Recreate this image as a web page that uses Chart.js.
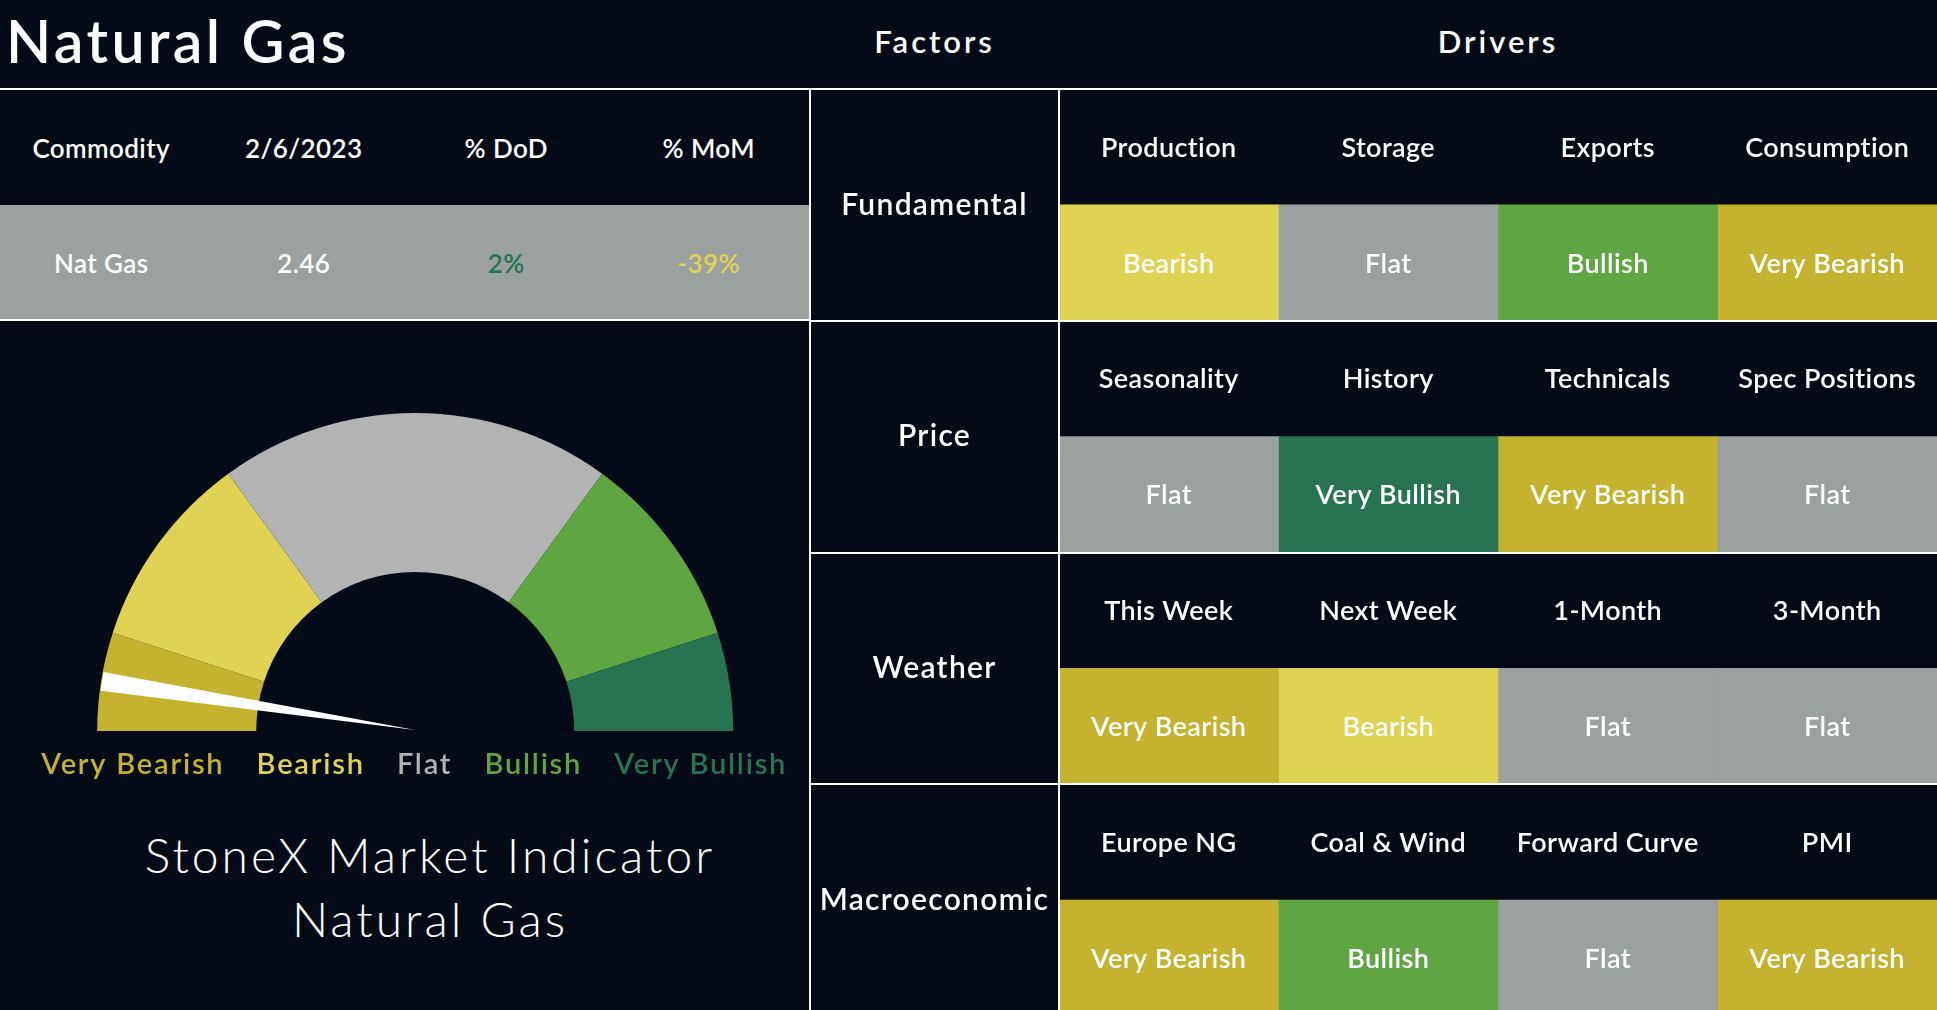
<!DOCTYPE html>
<html>
<head>
<meta charset="utf-8">
<title>Natural Gas - StoneX Market Indicator</title>
<script src="https://cdn.jsdelivr.net/npm/chart.js@4.4.1/dist/chart.umd.min.js"></script>
<style>
  html, body { margin: 0; padding: 0; width: 1937px; height: 1010px; overflow: hidden; background: #040b16; }
  body { position: relative; font-family: Lato, "Noto Sans", sans-serif; color: #fff; }
  .abs { position: absolute; }
  .line { position: absolute; background: #fff; }
  #title { left: 6px; top: 11px; font-size: 59px; font-weight: 600; line-height: 1; white-space: nowrap; letter-spacing: 3.4px; }
  .head { top: 26px; font-size: 31px; font-weight: 600; line-height: 1; text-align: center; letter-spacing: 3px; }
  #stats { left: 0; top: 90px; width: 810px; }
  #stats .row { display: flex; height: 115px; }
  #stats .row.data { background: #9aa19f; }
  #stats .cell { flex: 1; display: flex; align-items: center; justify-content: center; font-size: 26px; font-weight: 600; letter-spacing: 0.4px; }
  #indicator { left: 0; top: 823px; width: 860px; text-align: center; font-size: 48px; font-weight: 300; line-height: 64px; letter-spacing: 3px; }
</style>
</head>
<body>
<div id="title" class="abs">Natural Gas</div>
<div class="abs head" style="left:810px;width:249px;">Factors</div>
<div class="abs head" style="left:1059px;width:878px;">Drivers</div>

<div id="stats" class="abs"></div>
<div class="line" style="left:0;top:88px;width:810px;height:2px;"></div>
<div class="line" style="left:0;top:319px;width:810px;height:2px;"></div>
<div class="line" style="left:809px;top:88px;width:2px;height:922px;"></div>

<div class="abs" style="left:9px;top:413px;width:830px;height:379px;"><canvas id="gauge"></canvas></div>
<div class="abs" style="left:9px;top:413px;width:830px;height:317px;"><canvas id="needle"></canvas></div>
<div id="indicator" class="abs">StoneX Market Indicator<br>Natural Gas</div>

<div class="abs" style="left:810px;top:88px;width:1127px;height:928px;"><canvas id="drivers"></canvas></div>

<script>
// ---- data ----
const statHeaders = ['Commodity', '2/6/2023', '% DoD', '% MoM'];
const statValues = ['Nat Gas', '2.46', '2%', '-39%'];

const sentiments = ['Very Bearish', 'Bearish', 'Flat', 'Bullish', 'Very Bullish'];
const gaugeBands = [10, 20, 40, 20, 10];
const needleReading = 4.9;

const factors = ['Fundamental', 'Price', 'Weather', 'Macroeconomic'];
const drivers = [
    ['Production', 'Storage', 'Exports', 'Consumption'],
    ['Seasonality', 'History', 'Technicals', 'Spec Positions'],
    ['This Week', 'Next Week', '1-Month', '3-Month'],
    ['Europe NG', 'Coal & Wind', 'Forward Curve', 'PMI']
];
const signals = [
    ['Bearish', 'Flat', 'Bullish', 'Very Bearish'],
    ['Flat', 'Very Bullish', 'Very Bearish', 'Flat'],
    ['Very Bearish', 'Bearish', 'Flat', 'Flat'],
    ['Very Bearish', 'Bullish', 'Flat', 'Very Bearish']
];

// ---- styles ----
const cellColors = {
    'Very Bearish': '#c5b22f',
    'Bearish': '#e0d354',
    'Flat': '#9aa19f',
    'Bullish': '#5fa643',
    'Very Bullish': '#287352'
};
const gaugeColors = ['#c5b22f', '#e0d354', '#b3b3b3', '#5fa643', '#287352'];
const statColors = ['#ffffff', '#ffffff', '#287352', '#e0d354'];
const NEEDLE_WIDTH = 1.9;
const GAUGE_PAD = { right: 17.6 };
const FONT = 'Lato';

Chart.defaults.font.family = FONT;
Chart.defaults.animation = false;
Chart.defaults.plugins.tooltip.enabled = false;

// canvas letter spacing, so the wide lettering of the original is kept
const spacing = px => ({
    id: 'spacing',
    beforeUpdate(chart) { chart.ctx.letterSpacing = px + 'px'; },
    beforeDraw(chart) { chart.ctx.letterSpacing = px + 'px'; }
});

// commodity table
const stats = document.getElementById('stats');
[statHeaders, statValues].forEach((row, r) => {
    const div = document.createElement('div');
    div.className = r === 0 ? 'row' : 'row data';
    row.forEach((txt, c) => {
        const cell = document.createElement('div');
        cell.className = 'cell';
        cell.textContent = txt;
        if (r === 1) cell.style.color = statColors[c];
        div.appendChild(cell);
    });
    stats.appendChild(div);
});

// gauge
new Chart(document.getElementById('gauge'), {
    type: 'doughnut',
    data: {
        labels: sentiments,
        datasets: [{
            data: gaugeBands,
            backgroundColor: gaugeColors,
            borderWidth: 0,
            hoverOffset: 0,
            offset: 0
        }]
    },
    options: {
        responsive: true,
        maintainAspectRatio: false,
        rotation: -90,
        circumference: 180,
        cutout: '50%',
        layout: { padding: GAUGE_PAD },
        plugins: {
            legend: {
                display: true,
                position: 'bottom',
                align: 'start',
                labels: {
                    boxWidth: 0.7,
                    boxHeight: 34,
                    padding: 17,
                    font: { size: 29, weight: '600' },
                    generateLabels: () => sentiments.map((s, i) => ({
                        text: s,
                        fillStyle: 'transparent',
                        strokeStyle: 'transparent',
                        fontColor: gaugeColors[i],
                        lineWidth: 0,
                        hidden: false,
                        index: i
                    }))
                }
            }
        }
    },
    plugins: [spacing(1.8)]
});

// needle: a thin white slice laid over the gauge
const gaugeTotal = gaugeBands.reduce((a, b) => a + b, 0);
new Chart(document.getElementById('needle'), {
    type: 'pie',
    data: {
        labels: ['', 'needle', ''],
        datasets: [{
            data: [needleReading - NEEDLE_WIDTH / 2, NEEDLE_WIDTH, gaugeTotal - needleReading - NEEDLE_WIDTH / 2],
            backgroundColor: ['transparent', '#ffffff', 'transparent'],
            borderWidth: 0,
            hoverOffset: 0,
            offset: 0
        }]
    },
    options: {
        responsive: true,
        maintainAspectRatio: false,
        rotation: -90,
        circumference: 180,
        layout: { padding: GAUGE_PAD },
        plugins: { legend: { display: false } }
    }
});

// drivers grid: each factor gives a header row (driver names) and a signal row
const rowLabels = [];
factors.forEach(f => { rowLabels.push(f, ''); });

const FACTOR_W = 249;
const ROW_H = 927 / rowLabels.length;
const FACTOR_SPACING = 1.3;
const factorFont = { size: 30, weight: '600' };
const measure = document.createElement('canvas').getContext('2d');
measure.font = `600 ${factorFont.size}px ${FONT}`;
measure.letterSpacing = FACTOR_SPACING + 'px';
const widest = Math.max(...factors.map(f => measure.measureText(f).width));

const columnSets = drivers[0].map((_, k) => ({
    label: 'col' + k,
    data: rowLabels.map(() => 1),
    backgroundColor: rowLabels.map((_, r) => r % 2 === 0 ? 'transparent' : cellColors[signals[Math.floor(r / 2)][k]]),
    borderWidth: 0,
    barPercentage: 1,
    categoryPercentage: 1
}));

const cellText = {
    id: 'cellText',
    afterDatasetsDraw(chart) {
        const ctx = chart.ctx;
        ctx.save();
        ctx.fillStyle = '#ffffff';
        ctx.textAlign = 'center';
        ctx.textBaseline = 'middle';
        ctx.font = `600 27px ${FONT}`;
        ctx.letterSpacing = '0.4px';
        chart.data.datasets.forEach((ds, k) => {
            chart.getDatasetMeta(k).data.forEach((bar, r) => {
                const f = Math.floor(r / 2);
                const txt = r % 2 === 0 ? drivers[f][k] : signals[f][k];
                const p = bar.getCenterPoint();
                ctx.fillText(txt, p.x, p.y + 1);
            });
        });
        ctx.restore();
    }
};

new Chart(document.getElementById('drivers'), {
    type: 'bar',
    data: { labels: rowLabels, datasets: columnSets },
    options: {
        indexAxis: 'y',
        responsive: true,
        maintainAspectRatio: false,
        layout: { padding: { top: 1 } },
        plugins: { legend: { display: false } },
        scales: {
            x: { stacked: true, min: 0, max: drivers[0].length, display: false },
            y: {
                stacked: true,
                offset: true,
                grid: {
                    offset: true,
                    z: 1,
                    lineWidth: 2,
                    drawTicks: true,
                    tickLength: FACTOR_W,
                    color: c => (c.index === undefined || c.index % 2 === 0) ? '#ffffff' : 'transparent'
                },
                border: { display: true, color: '#ffffff', width: 2, z: 1 },
                ticks: {
                    autoSkip: false,
                    color: '#ffffff',
                    font: factorFont,
                    crossAlign: 'center',
                    labelOffset: ROW_H / 2,
                    padding: FACTOR_W / 2 - FACTOR_W - widest / 2
                },
                afterFit: s => { s.width = FACTOR_W; }
            }
        }
    },
    plugins: [spacing(FACTOR_SPACING), cellText]
});
</script>
</body>
</html>
